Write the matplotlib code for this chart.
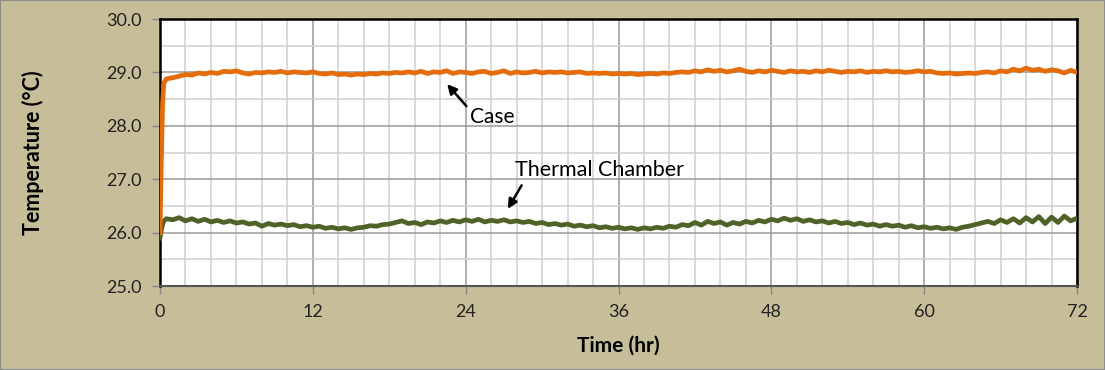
import matplotlib.pyplot as plt
import numpy as np
from matplotlib.ticker import MultipleLocator

# start-up transient (hr) then half-hour readings from 1 to 72 hr
t_start = [0.0, 0.1, 0.2, 0.3, 0.5]

case_start = [26.0, 27.3, 28.4, 28.8, 28.88]
case_vals = [
    28.90, 28.93, 28.96, 28.95, 28.99, 28.97, 29.00, 28.98, 29.02, 29.01, 29.03,
    28.99, 28.97, 29.00, 28.99, 29.01, 29.00, 29.02, 28.99, 29.01, 29.00, 28.99,
    29.01, 28.98, 28.97, 28.99, 28.96, 28.97, 28.95, 28.97, 28.96, 28.98, 28.97,
    28.99, 28.98, 29.00, 28.99, 29.01, 28.99, 29.02, 28.98, 29.01, 29.00, 29.03,
    28.98, 29.01, 29.00, 28.98, 29.01, 29.02, 28.98, 29.00, 29.03, 28.98, 29.01,
    28.99, 29.00, 29.02, 28.99, 29.01, 29.00, 29.01, 28.99, 29.00, 29.01, 28.98,
    28.99, 28.98, 28.99, 28.97, 28.98, 28.97, 28.98, 28.96, 28.97, 28.98, 28.97,
    28.99, 28.98, 29.00, 29.01, 29.00, 29.03, 29.01, 29.05, 29.02, 29.04, 29.01,
    29.03, 29.06, 29.02, 29.00, 29.03, 29.01, 29.04, 29.02, 29.00, 29.03, 29.01,
    29.02, 29.00, 29.03, 29.01, 29.04, 29.02, 29.00, 29.02, 29.01, 29.03, 29.00,
    29.02, 29.01, 29.03, 29.01, 29.02, 29.00, 29.01, 29.03, 29.01, 29.02, 28.99,
    28.98, 28.99, 28.97, 28.98, 28.99, 28.98, 29.00, 29.01, 28.99, 29.03, 29.01,
    29.06, 29.03, 29.08, 29.04, 29.06, 29.02, 29.05, 29.03, 28.99, 29.04, 29.00,
]

chamber_start = [25.90, 26.05, 26.15, 26.22, 26.26]
chamber_vals = [
    26.24, 26.28, 26.22, 26.26, 26.21, 26.25, 26.20, 26.23, 26.19, 26.22, 26.18,
    26.20, 26.16, 26.18, 26.12, 26.17, 26.14, 26.16, 26.13, 26.15, 26.11, 26.13,
    26.10, 26.12, 26.08, 26.10, 26.07, 26.09, 26.06, 26.09, 26.10, 26.13, 26.12,
    26.15, 26.16, 26.19, 26.22, 26.17, 26.19, 26.15, 26.20, 26.18, 26.22, 26.19,
    26.23, 26.20, 26.24, 26.21, 26.25, 26.20, 26.23, 26.21, 26.24, 26.20, 26.22,
    26.19, 26.21, 26.17, 26.19, 26.15, 26.17, 26.14, 26.16, 26.12, 26.14, 26.11,
    26.13, 26.09, 26.11, 26.08, 26.10, 26.07, 26.09, 26.06, 26.09, 26.07, 26.10,
    26.08, 26.12, 26.10, 26.15, 26.13, 26.19, 26.14, 26.21, 26.17, 26.20, 26.14,
    26.19, 26.16, 26.21, 26.18, 26.23, 26.20, 26.25, 26.22, 26.27, 26.23, 26.26,
    26.21, 26.24, 26.20, 26.22, 26.18, 26.21, 26.17, 26.19, 26.15, 26.18, 26.14,
    26.16, 26.12, 26.15, 26.12, 26.14, 26.10, 26.13, 26.09, 26.11, 26.08, 26.10,
    26.07, 26.09, 26.06, 26.10, 26.12, 26.15, 26.18, 26.21, 26.17, 26.24, 26.19,
    26.26, 26.18, 26.28, 26.20, 26.30, 26.17, 26.29, 26.19, 26.31, 26.22, 26.27,
]

t_case = np.concatenate([t_start, np.linspace(1, 72, len(case_vals))])
t_chamber = np.concatenate([t_start, np.linspace(1, 72, len(chamber_vals))])
case = np.array(case_start + case_vals)
chamber = np.array(chamber_start + chamber_vals)

bg = '#C6BE98'
plt.rcParams['font.family'] = ['Lato', 'DejaVu Sans']

fig = plt.figure(figsize=(11.05, 3.7), dpi=100, facecolor=bg)
fig.patches.append(plt.Rectangle((0, 0), 1, 1, transform=fig.transFigure,
                                 fill=False, edgecolor='#8C8C8C', lw=1.5))
ax = fig.add_axes([0.1448, 0.227, 0.8299, 0.7216])

ax.plot(t_chamber, chamber, color='#4F6228', lw=3.4, zorder=3)
ax.plot(t_case, case, color='#E46C0A', lw=3.4, zorder=3)

ax.set_xlim(0, 72)
ax.set_ylim(25, 30)
ax.xaxis.set_major_locator(MultipleLocator(12))
ax.xaxis.set_minor_locator(MultipleLocator(2))
ax.yaxis.set_major_locator(MultipleLocator(1))
ax.yaxis.set_minor_locator(MultipleLocator(0.5))
ax.yaxis.set_major_formatter(plt.FormatStrFormatter('%.1f'))
ax.grid(which='major', color='#9A9A9A', lw=1.1)
ax.grid(which='minor', color='#CFCFCF', lw=1.1)
ax.set_axisbelow(True)
ax.tick_params(which='minor', length=0)
ax.tick_params(which='major', length=6, width=1, color='#888888',
               labelsize=13, labelcolor='#222222', pad=7)

for side in ['left', 'top', 'right']:
    ax.spines[side].set_color('black')
    ax.spines[side].set_linewidth(1.8)
ax.spines['bottom'].set_color('#555555')
ax.spines['bottom'].set_linewidth(1.5)

ax.set_xlabel('Time (hr)', fontsize=15, fontweight='bold', labelpad=11)
ax.set_ylabel('Temperature (\u00b0C)', fontsize=15.5, fontweight='bold', labelpad=45)

arrow = dict(arrowstyle='-|>', color='black', lw=1.8, mutation_scale=14)
ax.annotate('', xy=(22.4, 28.82), xytext=(24.2, 28.33), arrowprops=arrow)
ax.text(24.3, 28.16, 'Case', fontsize=15, va='center', ha='left')
ax.annotate('', xy=(27.2, 26.4), xytext=(28.5, 26.93), arrowprops=arrow)
ax.text(27.9, 27.17, 'Thermal Chamber', fontsize=15.5, va='center', ha='left')

plt.savefig('out.png', dpi=100, facecolor=bg)
